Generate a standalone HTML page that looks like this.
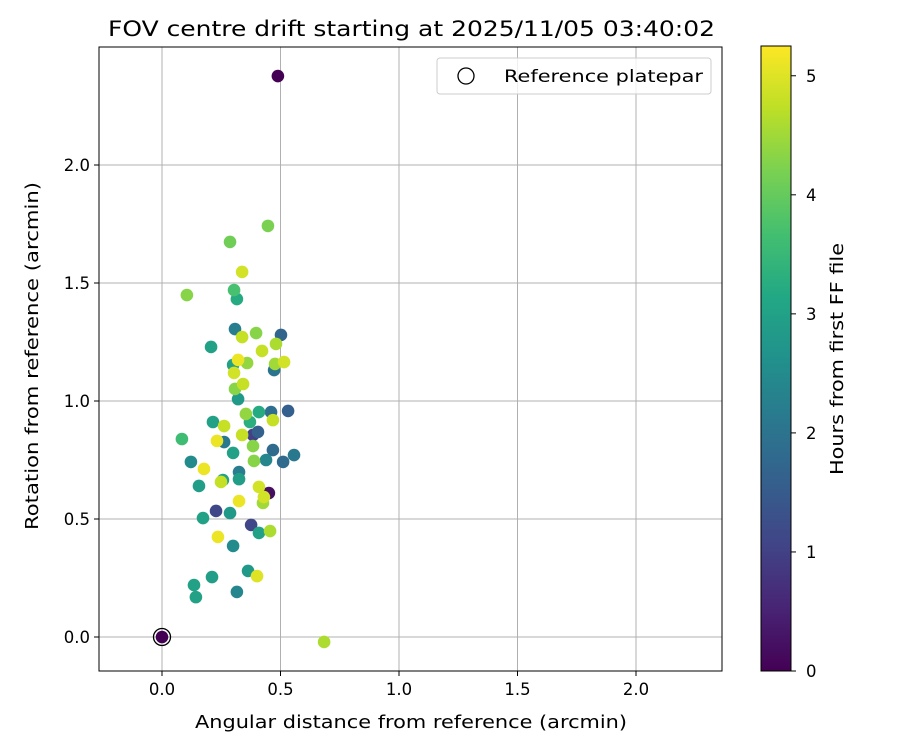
<!DOCTYPE html>
<html><head><meta charset="utf-8"><style>
html,body{margin:0;padding:0;background:#fff;}
svg text{font-family:"DejaVu Sans","Liberation Sans",sans-serif;fill:#000;}
</style></head><body>
<svg id="chart" width="900" height="750" xmlns="http://www.w3.org/2000/svg">
<text x="108" y="36" font-size="21.5" textLength="607" lengthAdjust="spacingAndGlyphs">FOV centre drift starting at 2025/11/05 03:40:02</text>
<g id="grid"></g>
<g id="points"></g>
<rect x="99" y="47" width="623" height="624" fill="none" stroke="#000" stroke-width="1"/>
<g id="ticks"></g>
<text x="195" y="728" font-size="17.5" textLength="432" lengthAdjust="spacingAndGlyphs">Angular distance from reference (arcmin)</text>
<text transform="translate(38,530) rotate(-90)" font-size="17.5" textLength="348" lengthAdjust="spacingAndGlyphs">Rotation from reference (arcmin)</text>
<g>
<rect x="437" y="58" width="274" height="36" rx="3" fill="#fff" fill-opacity="0.8" stroke="#ccc"/>
<circle cx="466" cy="76" r="8" fill="none" stroke="#000" stroke-width="1.3"/>
<text x="504" y="82" font-size="17" textLength="199" lengthAdjust="spacingAndGlyphs">Reference platepar</text>
</g>
<defs><linearGradient id="vir" x1="0" y1="1" x2="0" y2="0"></linearGradient></defs>
<rect x="761" y="46" width="30" height="625" fill="url(#vir)" stroke="#000" stroke-width="1"/>
<g id="cbticks"></g>
<text transform="translate(843,475) rotate(-90)" font-size="17.5" textLength="232" lengthAdjust="spacingAndGlyphs">Hours from first FF file</text>
</svg>
<script>
const xs=[0,0.447,0.287,0.338,0.105,0.304,0.316,0.308,0.397,0.502,0.338,0.207,0.481,0.422,0.321,0.359,0.300,0.304,0.515,0.477,0.473,0.342,0.308,0.321,0.354,0.409,0.460,0.532,0.468,0.371,0.215,0.262,0.084,0.232,0.262,0.338,0.384,0.405,0.300,0.384,0.468,0.439,0.511,0.557,0.388,0.122,0.177,0.325,0.325,0.156,0.257,0.249,0.409,0.451,0.430,0.426,0.325,0.228,0.287,0.173,0.376,0.409,0.456,0.236,0.300,0.363,0.401,0.211,0.135,0.143,0.316,0.489,0.684];
const ys=[0,1.742,1.674,1.547,1.449,1.470,1.432,1.305,1.288,1.280,1.271,1.229,1.242,1.212,1.174,1.161,1.153,1.119,1.165,1.157,1.131,1.072,1.051,1.008,0.945,0.953,0.953,0.958,0.919,0.911,0.911,0.894,0.839,0.831,0.826,0.856,0.856,0.869,0.780,0.809,0.792,0.750,0.742,0.771,0.746,0.742,0.712,0.699,0.669,0.640,0.665,0.657,0.636,0.610,0.593,0.568,0.576,0.534,0.525,0.504,0.475,0.441,0.449,0.424,0.386,0.280,0.258,0.254,0.220,0.169,0.191,2.377,-0.021];
const hours=[0,4.2,4.1,4.9,4.3,3.7,3.2,2.2,4.3,1.7,4.8,3.0,4.6,4.8,5.1,4.4,3.0,4.9,4.9,4.5,2.0,4.8,4.3,2.8,4.4,3.2,1.9,1.6,4.8,3.3,3.0,4.8,3.6,5.1,2.1,4.8,1.0,1.6,3.0,4.3,1.8,2.4,1.8,2.1,4.3,2.5,5.1,2.2,2.9,2.9,3.0,4.8,4.9,0.2,4.9,4.5,5.1,1.1,2.8,3.0,1.1,3.0,4.6,5.1,2.5,2.8,5.0,2.9,3.0,3.0,2.4,0.0,4.6];
const xTicks=[0,0.5,1,1.5,2];
const yTicks=[0,0.5,1,1.5,2];
const cTicks=[0,1,2,3,4,5];
const X=v=>162+v*237, Y=v=>637-v*236, C=v=>671-v*(625/5.25);
const NS="http://www.w3.org/2000/svg";
const vstops=[[0,"#440154"],[0.1,"#482475"],[0.2,"#414487"],[0.3,"#355f8d"],[0.4,"#2a788e"],[0.5,"#21918c"],[0.6,"#22a884"],[0.7,"#44bf70"],[0.8,"#7ad151"],[0.9,"#bddf26"],[1,"#fde725"]];
function hex(h){return [1,3,5].map(i=>parseInt(h.substr(i,2),16));}
function vir(t){t=Math.max(0,Math.min(1,t));for(let i=1;i<vstops.length;i++){if(t<=vstops[i][0]){const a=vstops[i-1],b=vstops[i];const f=(t-a[0])/(b[0]-a[0]);const A=hex(a[1]),B=hex(b[1]);return "rgb("+A.map((v,k)=>Math.round(v+(B[k]-v)*f)).join(",")+")";}}return vstops[10][1];}
function mk(tag,attrs,parent,txt){const e=document.createElementNS(NS,tag);for(const k in attrs)e.setAttribute(k,attrs[k]);if(txt!=null)e.textContent=txt;parent.appendChild(e);return e;}
const grid=document.getElementById('grid'),ticks=document.getElementById('ticks'),pts=document.getElementById('points'),cbt=document.getElementById('cbticks');
xTicks.forEach(v=>{const x=X(v);
 const g=mk('line',{x1:x,x2:x,y1:47,y2:671,stroke:'#b0b0b0','stroke-width':1},grid);
 
 
 mk('line',{x1:x,x2:x,y1:671,y2:676,stroke:'#000'},ticks);
 const t=mk('text',{x:x,y:695,'font-size':16.5,'text-anchor':'middle'},ticks,v.toFixed(1));
 
 });
yTicks.forEach(v=>{const y=Y(v);
 const g=mk('line',{x1:99,x2:722,y1:y,y2:y,stroke:'#b0b0b0','stroke-width':1},grid);
 
 
 mk('line',{x1:94,x2:99,y1:y,y2:y,stroke:'#000'},ticks);
 const t=mk('text',{x:90,y:y+6,'font-size':16.5,'text-anchor':'end'},ticks,v.toFixed(1));
 
 });
const idx=xs.map((_,i)=>i).sort((a,b)=>hours[a]-hours[b]);
idx.forEach(i=>{const c=mk('circle',{cx:X(xs[i]),cy:Y(ys[i]),r:6.3,fill:vir(hours[i]/5.25)},pts);
 
 });
const ref=mk('circle',{cx:X(0),cy:Y(0),r:8.5,fill:'none',stroke:'#000','stroke-width':1.3},pts);


const grad=document.getElementById('vir');
vstops.forEach(s=>mk('stop',{offset:s[0],'stop-color':s[1]},grad));
cTicks.forEach(v=>{const y=C(v);
 mk('line',{x1:791,x2:796,y1:y,y2:y,stroke:'#000'},cbt);
 const t=mk('text',{x:806,y:y+6,'font-size':16.5},cbt,String(v));
 
 });
</script>
</body></html>
